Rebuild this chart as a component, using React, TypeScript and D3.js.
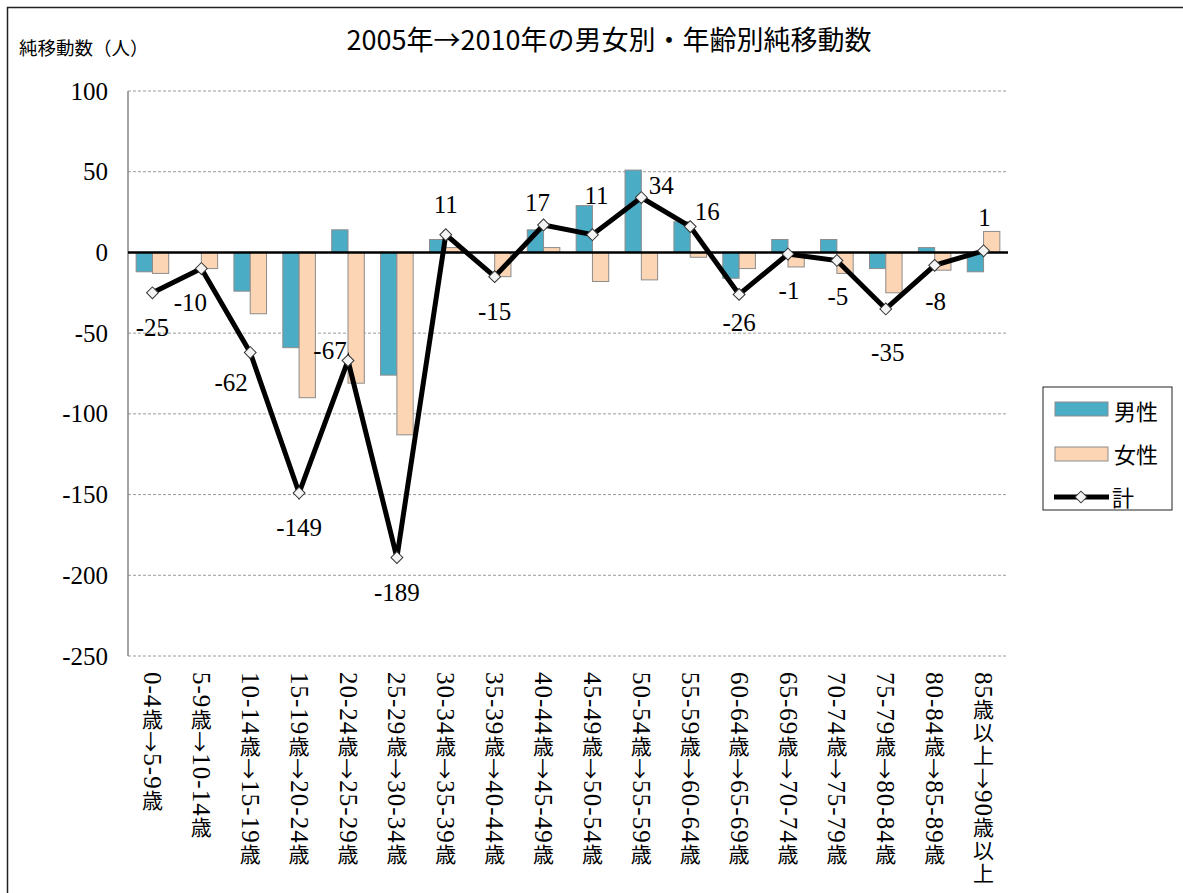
import React from 'react';
import * as d3 from 'd3';

const categories = [
  '0-4歳→5-9歳', '5-9歳→10-14歳', '10-14歳→15-19歳', '15-19歳→20-24歳',
  '20-24歳→25-29歳', '25-29歳→30-34歳', '30-34歳→35-39歳', '35-39歳→40-44歳',
  '40-44歳→45-49歳', '45-49歳→50-54歳', '50-54歳→55-59歳', '55-59歳→60-64歳',
  '60-64歳→65-69歳', '65-69歳→70-74歳', '70-74歳→75-79歳', '75-79歳→80-84歳',
  '80-84歳→85-89歳', '85歳以上→90歳以上',
];
const maleValues = [-12, 0, -24, -59, 14, -76, 8, 0, 14, 29, 51, 19, -16, 8, 8, -10, 3, -12];
const femaleValues = [-13, -10, -38, -90, -81, -113, 3, -15, 3, -18, -17, -3, -10, -9, -13, -25, -11, 13];
const totalValues = [-25, -10, -62, -149, -67, -189, 11, -15, 17, 11, 34, 16, -26, -1, -5, -35, -8, 1];
const yTicks = [100, 50, 0, -50, -100, -150, -200, -250];
const seriesNames = ['男性', '女性', '計'];
const title = '2005年→2010年の男女別・年齢別純移動数';
const yTitle = '純移動数（人）';

// label placement (offset of the data label from its point, in px)
const labelOffsets: [number, number][] = [
  [0, 35], [-11, 34], [-19, 30], [0, 35], [-18, -10], [0, 35], [0, -30], [0, 35], [-6, -22],
  [4, -39], [20, -12], [17, -15], [0, 28], [1, 36], [1, 36], [2, 44], [1, 36], [1, -33],
];

const W = 1183;
const H = 893;
const plot = { left: 128, right: 1008, top: 91, bottom: 656 };
const maleColor = '#4BACC6';
const femaleColor = '#FCD5B5';
const serif = "'Liberation Serif', 'Times New Roman', serif";
const sans = "'Noto Sans CJK JP', 'Noto Sans', sans-serif";
const cjk = "'Noto Sans CJK JP', sans-serif";

const latinSize = 25;
const cjkSize = 21;
const arrowSize = 21;
const charGap = 1;

let ctx: CanvasRenderingContext2D | null = null;
function measure(t: string, font: string, fallback: number) {
  try {
    if (!ctx) ctx = document.createElement('canvas').getContext('2d');
    if (!ctx) return fallback;
    ctx.font = font;
    return ctx.measureText(t).width;
  } catch (e) {
    return fallback;
  }
}

type Run = { t: string; kind: 'latin' | 'cjk' | 'arrow' };
function splitRuns(s: string): Run[] {
  const runs: Run[] = [];
  for (const ch of Array.from(s)) {
    const kind: Run['kind'] = ch === '→' ? 'arrow' : /[\u3000-\u9fff\uff00-\uffef]/.test(ch) ? 'cjk' : 'latin';
    const last = runs[runs.length - 1];
    if (last && last.kind === kind && kind !== 'arrow') last.t += ch;
    else runs.push({ t: ch, kind });
  }
  return runs;
}

function VerticalLabel({ text, cx, top }: { text: string; cx: number; top: number }) {
  let pos = top;
  const out: React.ReactNode[] = [];
  splitRuns(text).forEach((r, k) => {
    if (r.kind === 'cjk') {
      out.push(
        <text key={k} x={cx} y={pos} fontFamily={cjk} fontSize={cjkSize} letterSpacing={charGap + 1} fill="#000"
          style={{ writingMode: 'vertical-rl' } as any}>{r.t}</text>
      );
      pos += (cjkSize + charGap + 1) * r.t.length;
    } else if (r.kind === 'arrow') {
      const w = measure(r.t, `${arrowSize}px 'Noto Sans CJK JP'`, arrowSize);
      out.push(
        <text key={k} transform={`translate(${cx},${pos}) rotate(90)`} dominantBaseline="central"
          fontFamily={cjk} fontSize={arrowSize} fill="#000">{r.t}</text>
      );
      pos += w + charGap;
    } else {
      const w = measure(r.t, `${latinSize}px 'Liberation Serif'`, r.t.length * latinSize * 0.48);
      out.push(
        <text key={k} transform={`translate(${cx},${pos}) rotate(90)`} dominantBaseline="central"
          fontFamily={serif} fontSize={latinSize} letterSpacing={charGap} fill="#000">{r.t}</text>
      );
      pos += w + charGap * r.t.length;
    }
  });
  return <g>{out}</g>;
}

export default function App() {
  const x = d3.scaleBand<string>().domain(categories).range([plot.left, plot.right]);
  const inner = d3.scaleBand<string>().domain(['male', 'female']).range([0, x.bandwidth()]).paddingOuter(0.5).paddingInner(0);
  const y = d3.scaleLinear().domain([-250, 100]).range([plot.bottom, plot.top]);
  const cx = (i: number) => (x(categories[i]) as number) + x.bandwidth() / 2;

  const line = d3.line<number>().x((_, i) => cx(i)).y((d) => y(d));
  const diamond = d3.symbol().type(d3.symbolSquare).size(70)();

  const bar = (vals: number[], key: string, color: string) =>
    vals.map((v, i) => {
      const x0 = (x(categories[i]) as number) + (inner(key) as number);
      const y0 = Math.min(y(v), y(0));
      const h = Math.abs(y(v) - y(0));
      return (
        <rect key={key + i} x={x0} y={y0} width={inner.bandwidth()} height={h}
          fill={color} stroke="#8c8c8c" strokeWidth={1} />
      );
    });

  return (
    <div>
      <style>{`body{margin:0;overflow:hidden}`}</style>
      <svg width={W} height={H} style={{ display: 'block' }}>
        <rect x={0} y={0} width={W} height={H} fill="#fff" />
        <rect x={7.5} y={7.5} width={W + 20} height={H + 20} fill="none" stroke="#222" strokeWidth={1.5} />
        <text x={609} y={38} textAnchor="middle" dominantBaseline="central" fontFamily={sans} fontSize={27} fill="#000">{title}</text>
        <text x={19} y={47} dominantBaseline="central" fontFamily={sans} fontSize={18.5} fill="#000">{yTitle}</text>

        {yTicks.map((t) => (
          <g key={t}>
            {t !== 0 && (
              <line x1={plot.left} x2={plot.right} y1={y(t)} y2={y(t)} stroke="#9a9a9a" strokeWidth={1} strokeDasharray="3,2" />
            )}
            <text x={108} y={y(t)} textAnchor="end" dominantBaseline="central" fontFamily={serif} fontSize={25} fill="#000">{t}</text>
          </g>
        ))}
        <line x1={plot.left} x2={plot.left} y1={plot.top} y2={plot.bottom} stroke="#868686" strokeWidth={1.5} />

        {bar(maleValues, 'male', maleColor)}
        {bar(femaleValues, 'female', femaleColor)}

        <line x1={plot.left} x2={plot.right} y1={y(0)} y2={y(0)} stroke="#000" strokeWidth={2.5} />

        <path d={line(totalValues) || ''} fill="none" stroke="#000" strokeWidth={5} strokeLinejoin="miter" />
        {totalValues.map((v, i) => (
          <path key={'m' + i} d={diamond || ''} transform={`translate(${cx(i)},${y(v)}) rotate(45)`} fill="#f4f4f4" stroke="#333" strokeWidth={1} />
        ))}
        {totalValues.map((v, i) => (
          <text key={'l' + i} x={cx(i) + labelOffsets[i][0]} y={y(v) + labelOffsets[i][1]} textAnchor="middle" dominantBaseline="central"
            fontFamily={serif} fontSize={25} fill="#000">{v}</text>
        ))}

        {categories.map((c, i) => (
          <VerticalLabel key={'c' + i} text={c} cx={cx(i)} top={plot.bottom + 16} />
        ))}

        <g>
          <rect x={1043} y={387} width={129} height={123} fill="#fff" stroke="#222" strokeWidth={1} />
          <rect x={1055} y={402} width={53} height={14} fill={maleColor} stroke="#8c8c8c" strokeWidth={1} />
          <text x={1114} y={410} dominantBaseline="central" fontFamily={sans} fontSize={22} fill="#000">{seriesNames[0]}</text>
          <rect x={1055} y={447} width={53} height={14} fill={femaleColor} stroke="#8c8c8c" strokeWidth={1} />
          <text x={1114} y={453} dominantBaseline="central" fontFamily={sans} fontSize={22} fill="#000">{seriesNames[1]}</text>
          <line x1={1054} x2={1109} y1={497} y2={497} stroke="#000" strokeWidth={5} />
          <path d={diamond || ''} transform="translate(1081,497) rotate(45)" fill="#f4f4f4" stroke="#333" strokeWidth={1} />
          <text x={1112} y={496} dominantBaseline="central" fontFamily={sans} fontSize={22} fill="#000">{seriesNames[2]}</text>
        </g>
      </svg>
    </div>
  );
}
